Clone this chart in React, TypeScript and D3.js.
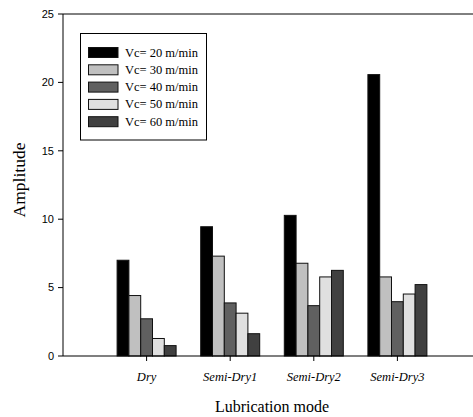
import React from "react";
import * as d3 from "d3";

const categories = ["Dry", "Semi-Dry1", "Semi-Dry2", "Semi-Dry3"];
const seriesNames = ["Vc= 20 m/min", "Vc= 30 m/min", "Vc= 40 m/min", "Vc= 50 m/min", "Vc= 60 m/min"];
const vc20 = [7.0, 9.45, 10.28, 20.57];
const vc30 = [4.42, 7.3, 6.78, 5.78];
const vc40 = [2.72, 3.88, 3.68, 3.97];
const vc50 = [1.28, 3.13, 5.78, 4.53];
const vc60 = [0.76, 1.63, 6.26, 5.22];
const yTicks = [0, 5, 10, 15, 20, 25];
const colors = ["#000000", "#c0c0c0", "#606060", "#e0e0e0", "#404040"];

const series = [vc20, vc30, vc40, vc50, vc60];

const serif = { fontFamily: "Liberation Serif" };
const sans = { fontFamily: "Liberation Sans" };

export default function App() {
  const W = 473, H = 417;
  const left = 63, top = 14, bottom = 356, right = 481;
  const y = d3.scaleLinear().domain([0, 25]).range([bottom, top]);
  const x = d3.scaleLinear().domain([0, 5]).range([left, right]);
  const groupW = 59;
  const inner = d3.scaleBand().domain(seriesNames).range([-groupW / 2, groupW / 2]).padding(0);

  return (
    <svg width={W} height={H} style={{ position: "absolute", left: 0, top: 0, background: "#fff" }}>
      {categories.map((c, i) => (
        <g key={c}>
          {series.map((s, j) => {
            const x0 = x(i + 1) + (inner(seriesNames[j]) as number);
            return (
              <rect key={j} x={x0} y={y(s[i])} width={inner.bandwidth()} height={y(0) - y(s[i])}
                fill={colors[j]} stroke="#111" strokeWidth={1} />
            );
          })}
        </g>
      ))}
      <line x1={left} x2={right} y1={top} y2={top} stroke="#000" strokeWidth={1} />
      <line x1={left} x2={left} y1={top} y2={bottom} stroke="#000" strokeWidth={1} />
      <line x1={left} x2={right} y1={bottom} y2={bottom} stroke="#000" strokeWidth={1.2} />
      {yTicks.map((t) => (
        <g key={t}>
          <line x1={left - 5} x2={left} y1={y(t)} y2={y(t)} stroke="#000" />
          <text x={54} y={y(t)} dy="0.35em" textAnchor="end" style={sans} fontSize={11} fill="#000">{t}</text>
        </g>
      ))}
      {categories.map((c, i) => (
        <g key={c}>
          <line x1={x(i + 1)} x2={x(i + 1)} y1={bottom} y2={bottom + 5} stroke="#000" />
          <text x={x(i + 1)} y={381} textAnchor="middle" style={serif} fontStyle="italic" fontSize={12.5} fill="#000">{c}</text>
        </g>
      ))}
      <text x={272} y={412} textAnchor="middle" style={serif} fontSize={16} fill="#000">Lubrication mode</text>
      <text transform={`translate(25,180) rotate(-90)`} textAnchor="middle" style={serif} fontSize={17.5} fill="#000">Amplitude</text>
      <rect x={80.5} y={33.5} width={126} height={106.5} fill="#fff" stroke="#000" strokeWidth={1} />
      {seriesNames.map((n, j) => {
        const ry = 47.5 + j * 17.3;
        return (
          <g key={n}>
            <rect x={88.5} y={ry} width={29.5} height={10} fill={colors[j]} stroke="#111" strokeWidth={1} />
            <text x={125} y={ry + 9} style={serif} fontSize={12.5} fill="#000">{n}</text>
          </g>
        );
      })}
    </svg>
  );
}
